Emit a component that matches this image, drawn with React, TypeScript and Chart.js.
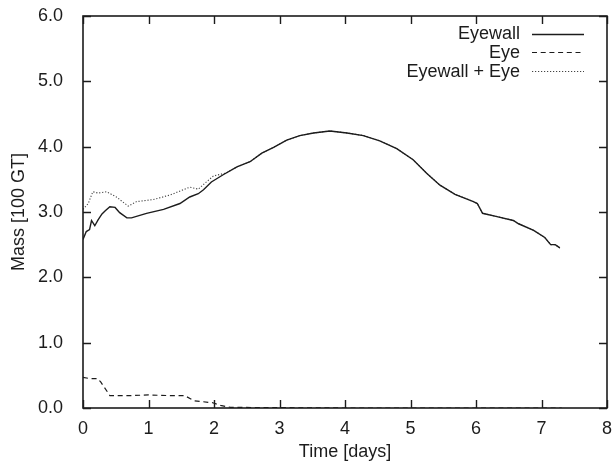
import React, { useEffect, useRef } from "react";
import { Chart, registerables } from "chart.js";

Chart.register(...registerables);

// ---- Data ----
const eyewallDays = [0, 0.05, 0.1, 0.13, 0.18, 0.23, 0.29, 0.34, 0.41, 0.49, 0.56, 0.67, 0.74, 0.97, 1.23, 1.48, 1.63, 1.76, 1.84, 1.96, 2.14, 2.35, 2.55, 2.73, 2.91, 3.11, 3.31, 3.52, 3.77, 4.03, 4.28, 4.53, 4.79, 5.04, 5.25, 5.45, 5.68, 5.96, 6.02, 6.1, 6.32, 6.57, 6.65, 6.88, 7.05, 7.14, 7.21, 7.28];
const eyewallMass = [2.58, 2.7, 2.73, 2.87, 2.79, 2.88, 2.97, 3.02, 3.08, 3.07, 2.99, 2.91, 2.91, 2.98, 3.04, 3.13, 3.23, 3.28, 3.34, 3.46, 3.57, 3.69, 3.77, 3.9, 3.99, 4.1, 4.17, 4.21, 4.24, 4.21, 4.17, 4.09, 3.97, 3.8, 3.59, 3.41, 3.27, 3.16, 3.13, 2.98, 2.93, 2.87, 2.82, 2.72, 2.61, 2.5, 2.5, 2.45];

const eyeDays = [0, 0.1, 0.22, 0.27, 0.41, 0.75, 1.0, 1.3, 1.55, 1.7, 1.98, 2.1, 2.25, 3, 4, 5, 6, 7, 7.31];
const eyeMass = [0.47, 0.45, 0.45, 0.4, 0.19, 0.19, 0.2, 0.19, 0.19, 0.11, 0.08, 0.04, 0.01, 0.005, 0, 0, 0, 0, 0];

const totalDays = [0, 0.08, 0.15, 0.23, 0.36, 0.51, 0.69, 0.82, 1.07, 1.33, 1.63, 1.76, 1.86, 1.99, 2.19, 2.35, 2.55, 2.73, 2.91, 3.11, 3.31, 3.52, 3.77, 4.03, 4.28, 4.53, 4.79, 5.04, 5.25, 5.45, 5.68, 5.96, 6.02, 6.1, 6.32, 6.57, 6.65, 6.88, 7.05, 7.14, 7.21, 7.28];
const totalMass = [3.04, 3.13, 3.31, 3.29, 3.31, 3.23, 3.09, 3.16, 3.19, 3.26, 3.38, 3.35, 3.44, 3.55, 3.6, 3.69, 3.77, 3.9, 3.99, 4.1, 4.17, 4.21, 4.24, 4.21, 4.17, 4.09, 3.97, 3.8, 3.59, 3.41, 3.27, 3.16, 3.13, 2.98, 2.93, 2.87, 2.82, 2.72, 2.61, 2.5, 2.5, 2.45];

const seriesLabels = ["Eyewall", "Eye", "Eyewall + Eye"];
const xTitle = "Time [days]";
const yTitle = "Mass [100 GT]";

const FONT = "'Liberation Sans', Arial, Helvetica, sans-serif";
const INK = "#1c1c1c";

const toPoints = (xs: number[], ys: number[]) => xs.map((x, i) => ({ x, y: ys[i] }));

const framePlugin = {
  id: "gnuplotFrame",
  afterDatasetsDraw(chart: any) {
    const { ctx, chartArea, scales } = chart;
    const { left, right, top, bottom } = chartArea;
    const tl = 8;
    ctx.save();
    ctx.strokeStyle = INK;
    ctx.lineWidth = 1.4;
    ctx.setLineDash([]);
    ctx.beginPath();
    scales.x.ticks.forEach((t: any) => {
      const px = Math.round(scales.x.getPixelForValue(t.value)) + 0.5;
      ctx.moveTo(px, bottom);
      ctx.lineTo(px, bottom - tl);
      ctx.moveTo(px, top);
      ctx.lineTo(px, top + tl);
    });
    scales.y.ticks.forEach((t: any) => {
      const py = Math.round(scales.y.getPixelForValue(t.value)) + 0.5;
      ctx.moveTo(left, py);
      ctx.lineTo(left + tl, py);
      ctx.moveTo(right, py);
      ctx.lineTo(right - tl, py);
    });
    ctx.stroke();
    ctx.lineWidth = 1.6;
    ctx.strokeRect(left, top, right - left, bottom - top);

    // gnuplot-style key: right-aligned text followed by a line sample
    const textRight = right - 87;
    const sampleStart = right - 75;
    const sampleEnd = right - 23;
    const rowY0 = top + 17.5;
    const rowStep = 18.8;
    ctx.font = `18px ${FONT}`;
    ctx.fillStyle = INK;
    ctx.textAlign = "right";
    ctx.textBaseline = "middle";
    chart.data.datasets.forEach((ds: any, i: number) => {
      const y = rowY0 + i * rowStep;
      ctx.fillText(ds.label, textRight, y + 1);
      ctx.beginPath();
      ctx.strokeStyle = ds.borderColor;
      ctx.lineWidth = ds.borderWidth;
      ctx.setLineDash(ds.borderDash || []);
      ctx.moveTo(sampleStart, Math.round(y) + 0.5);
      ctx.lineTo(sampleEnd, Math.round(y) + 0.5);
      ctx.stroke();
    });
    ctx.restore();
  },
};

export default function App() {
  const canvasRef = useRef<HTMLCanvasElement | null>(null);

  useEffect(() => {
    if (!canvasRef.current) return;
    const chart = new Chart(canvasRef.current, {
      type: "line",
      data: {
        datasets: [
          {
            label: seriesLabels[0],
            data: toPoints(eyewallDays, eyewallMass),
            borderColor: INK,
            borderWidth: 1.4,
            borderDash: [],
            pointRadius: 0,
            tension: 0,
            fill: false,
          },
          {
            label: seriesLabels[1],
            data: toPoints(eyeDays, eyeMass),
            borderColor: INK,
            borderWidth: 1.2,
            borderDash: [5, 3.7],
            pointRadius: 0,
            tension: 0,
            fill: false,
          },
          {
            label: seriesLabels[2],
            data: toPoints(totalDays, totalMass),
            borderColor: "#444",
            borderWidth: 1.1,
            borderDash: [1.2, 1.8],
            pointRadius: 0,
            tension: 0,
            fill: false,
          },
        ],
      },
      plugins: [framePlugin],
      options: {
        responsive: false,
        animation: false,
        devicePixelRatio: 1,
        layout: { padding: { left: 0, right: 9, top: 16, bottom: 0 } },
        plugins: {
          legend: { display: false },
          tooltip: { enabled: false },
        },
        scales: {
          x: {
            type: "linear",
            min: 0,
            max: 8,
            grid: { display: false },
            border: { display: false },
            ticks: {
              stepSize: 1,
              color: INK,
              padding: 2,
              maxRotation: 0,
              font: { family: FONT, size: 18 },
              callback: (v: any) => String(v),
            },
            title: {
              display: true,
              text: xTitle,
              color: INK,
              font: { family: FONT, size: 18 },
              padding: { top: 0, bottom: -1 },
            },
            afterFit: (s: any) => {
              s.height = 54;
              s.paddingLeft = 0;
              s.paddingRight = 0;
            },
          },
          y: {
            type: "linear",
            min: 0,
            max: 6,
            grid: { display: false },
            border: { display: false },
            ticks: {
              stepSize: 1,
              color: INK,
              padding: 12,
              font: { family: FONT, size: 18 },
              callback: (v: any) => Number(v).toFixed(1),
            },
            title: {
              display: true,
              text: yTitle,
              color: INK,
              font: { family: FONT, size: 18 },
              padding: { top: 8, bottom: 0 },
            },
            afterFit: (s: any) => {
              s.width = 83;
              s.paddingTop = 0;
              s.paddingBottom = 0;
            },
          },
        },
      },
    } as any);
    return () => chart.destroy();
  }, []);

  return (
    <div style={{ position: "absolute", left: 0, top: 0, width: 616, height: 462, background: "#fff" }}>
      <canvas ref={canvasRef} width={616} height={462} style={{ display: "block", width: 616, height: 462 }} />
    </div>
  );
}
